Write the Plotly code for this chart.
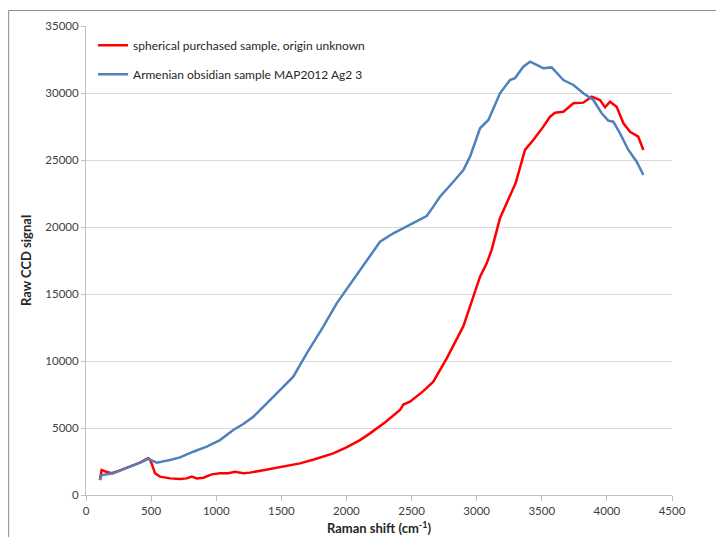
import plotly.graph_objects as go

red_x = [107, 120, 150, 197, 250, 300, 350, 415, 466, 479, 490, 504, 530, 568, 645, 722, 773, 812,
         850, 901, 965, 1029, 1093, 1144, 1208, 1259, 1362, 1490, 1643, 1750, 1899, 2000,
         2104, 2181, 2232, 2300, 2411, 2437, 2488, 2590, 2667, 2770, 2898, 2975, 3026, 3077, 3115,
         3179, 3256, 3300, 3371, 3435, 3512, 3563, 3602, 3666, 3743, 3819, 3883, 3947, 3986, 4024,
         4075, 4127, 4178, 4241, 4280]
red_y = [1120, 1870, 1750, 1620, 1800, 1990, 2200, 2410, 2690, 2740, 2650, 2360, 1620, 1370, 1240,
         1190, 1240, 1370, 1240, 1290, 1540, 1620, 1620, 1740, 1620, 1670, 1850, 2100, 2360, 2650,
         3110, 3560, 4100, 4600, 4970, 5450, 6340, 6750, 6960, 7750, 8460, 10200, 12600, 14800,
         16290, 17290, 18290, 20650, 22260, 23300, 25750, 26490, 27490, 28230, 28530, 28600, 29230,
         29280, 29730, 29480, 28930, 29350, 28980, 27740, 27110, 26740, 25750]

blue_x = [107, 120, 210, 312, 415, 479, 543, 645, 722, 824, 927, 1029, 1131, 1208, 1285, 1388, 1490,
          1592, 1695, 1822, 1925, 2015, 2104, 2181, 2258, 2360, 2463, 2540, 2616, 2667, 2718, 2821,
          2898, 2949, 3026, 3090, 3179, 3256, 3294, 3358, 3410, 3461, 3512, 3576, 3666, 3743, 3819,
          3896, 3960, 4011, 4049, 4101, 4165, 4229, 4280]
blue_y = [1120, 1490, 1620, 1990, 2410, 2690, 2410, 2610, 2810, 3230, 3610, 4100, 4850, 5300, 5840,
          6840, 7840, 8830, 10570, 12560, 14300, 15550, 16790, 17780, 18900, 19530, 20030, 20400,
          20820, 21520, 22260, 23380, 24250, 25250, 27370, 27990, 29980, 30970, 31100, 31960, 32340,
          32090, 31840, 31910, 30970, 30600, 29980, 29480, 28490, 27940, 27860, 26990, 25750, 24870,
          23880]

names = ["spherical purchased sample, origin unknown", "Armenian obsidian sample MAP2012 Ag2 3"]
x_ticks = list(range(0, 4501, 500))
y_ticks = list(range(0, 35001, 5000))
x_ticktext = [str(v) for v in x_ticks]
y_ticktext = [str(v) for v in y_ticks]

fig = go.Figure()
fig.add_trace(go.Scatter(x=red_x, y=red_y, mode="lines", name=names[0], legendgroup="a",
                         line=dict(color="#ff0000", width=2.5)))
fig.add_trace(go.Scatter(x=blue_x, y=blue_y, mode="lines", name=names[1], legendgroup="b",
                         line=dict(color="#4f81bd", width=2.5)))

font = "Lato, 'Open Sans', sans-serif"
fig.update_layout(
    width=716, height=529,
    margin=dict(l=78, r=52, t=18, b=42, autoexpand=False),
    paper_bgcolor="white", plot_bgcolor="white",
    font=dict(family=font, size=12, color="#404040"),
    legend=dict(x=0.012, y=0.99, xanchor="left", yanchor="top", bgcolor="rgba(0,0,0,0)",
                tracegroupgap=10, font=dict(size=12, color="#262626")),
    xaxis=dict(range=[0, 4500], tickvals=x_ticks, ticktext=x_ticktext, showgrid=False,
               showline=True, automargin=False,
               linecolor="#bfbfbf", linewidth=1, ticks="outside", ticklen=5, tickcolor="#bfbfbf",
               zeroline=False, tickfont=dict(size=11.5, color="#404040"),
               title=dict(text="<b>Raman shift (cm<sup>-1</sup>)</b>", standoff=8,
                          font=dict(size=13, color="#262626"))),
    yaxis=dict(range=[0, 35000], tickvals=y_ticks, ticktext=y_ticktext, showgrid=True,
               gridcolor="#d9d9d9", gridwidth=1, automargin=False,
               showline=True, linecolor="#bfbfbf", linewidth=1, ticks="outside", ticklen=4,
               tickcolor="#bfbfbf", zeroline=False, tickfont=dict(size=11.5, color="#404040"),
               title=dict(text="<b>Raw CCD signal</b>", standoff=10,
                          font=dict(size=13, color="#262626"))),
    shapes=[dict(type="rect", xref="paper", yref="paper", x0=-0.132, x1=1.3, y0=-0.3, y1=1.033,
                 line=dict(color="#8c8c8c", width=1), fillcolor="rgba(0,0,0,0)", layer="below")],
)

fig.write_html("out.html")
